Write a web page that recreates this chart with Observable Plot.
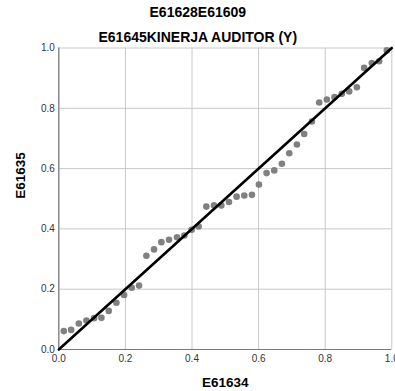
<!DOCTYPE html>
<html>
<head>
<meta charset="utf-8">
<script src="https://cdn.jsdelivr.net/npm/d3@7"></script>
<script src="https://cdn.jsdelivr.net/npm/@observablehq/plot@0.6"></script>
<style>
  html, body { margin: 0; padding: 0; background: white; }
</style>
</head>
<body>
<div id="chart"></div>
<script>
const titleLines = ["E61628E61609", "E61645KINERJA AUDITOR (Y)"];
const xLabel = "E61634";
const yLabel = "E61635";
const tickValues = [0, 0.2, 0.4, 0.6, 0.8, 1.0];

// Observed cumulative probability (x) and expected cumulative probability (y)
const observed = [0.015, 0.037, 0.060, 0.083, 0.106, 0.128, 0.150, 0.173, 0.196, 0.219, 0.241,
  0.263, 0.286, 0.308, 0.331, 0.355, 0.377, 0.399, 0.420, 0.443, 0.466, 0.488, 0.511, 0.534,
  0.557, 0.580, 0.601, 0.624, 0.647, 0.670, 0.692, 0.715, 0.737, 0.760, 0.782, 0.805, 0.828,
  0.850, 0.872, 0.895, 0.917, 0.940, 0.962, 0.985];
const expected = [0.061, 0.065, 0.086, 0.096, 0.104, 0.105, 0.128, 0.155, 0.181, 0.205, 0.212,
  0.311, 0.332, 0.356, 0.364, 0.372, 0.378, 0.397, 0.408, 0.474, 0.478, 0.478, 0.489, 0.507,
  0.511, 0.513, 0.547, 0.585, 0.594, 0.616, 0.651, 0.680, 0.715, 0.756, 0.819, 0.829, 0.837,
  0.848, 0.856, 0.870, 0.934, 0.950, 0.956, 0.992];
const refLine = [0, 1];

const points = observed.map((x, i) => ({x, y: expected[i]}));
const ref = refLine.map(v => ({x: v, y: v}));

const chart = Plot.plot({
  width: 395,
  height: 391,
  marginTop: 47.5,
  marginLeft: 58.3,
  marginRight: 3.7,
  marginBottom: 42,
  style: {fontFamily: "'Liberation Sans', Arial, sans-serif", fontSize: "10px", color: "#333", background: "white", overflow: "visible"},
  x: {domain: [0, 1]},
  y: {domain: [0, 1]},
  marks: [
    Plot.gridX(tickValues, {stroke: "#c8c8c8", strokeOpacity: 1, strokeWidth: 1}),
    Plot.gridY(tickValues, {stroke: "#c8c8c8", strokeOpacity: 1, strokeWidth: 1}),
    Plot.ruleX([0], {stroke: "#7a7a7a", strokeWidth: 1.2}),
    Plot.ruleY([0], {stroke: "#7a7a7a", strokeWidth: 1.2}),
    Plot.axisX(tickValues, {tickSize: 0, tickPadding: 5, tickFormat: d3.format(".1f"), label: null, fill: "#333"}),
    Plot.axisY(tickValues, {tickSize: 0, tickPadding: 4, tickFormat: d3.format(".1f"), label: null, fill: "#333"}),
    Plot.dot(points, {x: "x", y: "y", r: 3.3, fill: "#808080", stroke: "none"}),
    Plot.line(ref, {x: "x", y: "y", stroke: "black", strokeWidth: 2.6}),
    Plot.text([xLabel], {text: d => d, frameAnchor: "bottom", lineAnchor: "middle", dy: 33.5, fontWeight: "bold", fontSize: 13.5, fill: "black"}),
    Plot.text([yLabel], {text: d => d, frameAnchor: "left", lineAnchor: "middle", rotate: -90, dx: -38, fontWeight: "bold", fontSize: 13.5, fill: "black"}),
    Plot.text([titleLines[0]], {text: d => d, frameAnchor: "top", lineAnchor: "middle", dx: -27.5, dy: -35, fontWeight: "bold", fontSize: 14, fill: "black"}),
    Plot.text([titleLines[1]], {text: d => d, frameAnchor: "top", lineAnchor: "middle", dx: -27.5, dy: -10.2, fontWeight: "bold", fontSize: 14, fill: "black"})
  ]
});
document.getElementById("chart").appendChild(chart);
</script>
</body>
</html>
